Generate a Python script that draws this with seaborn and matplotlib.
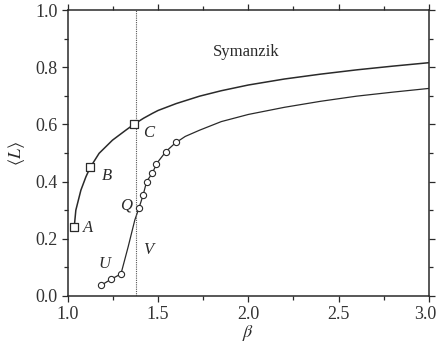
import numpy as np
import pandas as pd
import matplotlib
matplotlib.use('Agg')
import matplotlib.pyplot as plt
from matplotlib.ticker import MultipleLocator
from matplotlib.transforms import ScaledTranslation
import seaborn as sns

sns.set_style('ticks')
plt.rcParams['font.family'] = ['Liberation Serif', 'DejaVu Serif']
plt.rcParams['mathtext.fontset'] = 'stix'

# upper curve (Symanzik)
sym_beta = [1.035, 1.044, 1.072, 1.10, 1.124, 1.173, 1.247, 1.321, 1.367, 1.42, 1.469,
            1.50, 1.60, 1.73, 1.85, 2.0, 2.2, 2.4, 2.6, 2.8, 3.0]
sym_L = [0.240, 0.300, 0.370, 0.417, 0.450, 0.499, 0.545, 0.580, 0.601, 0.622, 0.639,
         0.649, 0.673, 0.699, 0.718, 0.738, 0.759, 0.776, 0.791, 0.804, 0.816]
# squares A, B, C
sq_beta = [1.035, 1.124, 1.367]
sq_L = [0.240, 0.450, 0.601]

# lower curve
low_beta = [1.186, 1.238, 1.294, 1.334, 1.371, 1.393, 1.417, 1.436, 1.467, 1.495,
            1.543, 1.593, 1.65, 1.73, 1.85, 2.0, 2.2, 2.4, 2.6, 2.8, 3.0]
low_L = [0.038, 0.058, 0.077, 0.172, 0.266, 0.306, 0.353, 0.400, 0.429, 0.466,
         0.505, 0.534, 0.558, 0.580, 0.610, 0.635, 0.660, 0.681, 0.699, 0.713, 0.726]
# circles on lower curve
circ_beta = [1.186, 1.238, 1.294, 1.393, 1.417, 1.436, 1.467, 1.490, 1.543, 1.598]
circ_L = [0.038, 0.058, 0.077, 0.306, 0.353, 0.400, 0.429, 0.460, 0.505, 0.537]

beta_c = 1.38

labels = ['A', 'B', 'C', 'Q', 'U', 'V']
label_beta = [1.109, 1.214, 1.45, 1.325, 1.20, 1.445]
label_L = [0.237, 0.42, 0.571, 0.318, 0.112, 0.161]

ink = '#2a2a2a'

fig = plt.figure(figsize=(4.38, 3.49), dpi=100)
ax = fig.add_axes([0.155, 0.152, 0.824, 0.819])

sns.lineplot(x=sym_beta, y=sym_L, ax=ax, color=ink, lw=1.1, sort=False)
sns.lineplot(x=low_beta, y=low_L, ax=ax, color=ink, lw=0.9, sort=False)
sns.scatterplot(x=sq_beta, y=sq_L, ax=ax, marker='s', s=30, facecolor='white',
                edgecolor=ink, linewidth=0.9, zorder=5)
sns.scatterplot(x=circ_beta, y=circ_L, ax=ax, marker='o', s=20, facecolor='white',
                edgecolor=ink, linewidth=0.8, zorder=5)
ax.axvline(beta_c, color='#555555', lw=0.8, ls=(0, (1, 1)))

for t, bx, by in zip(labels, label_beta, label_L):
    ax.text(bx, by, t, fontsize=12, style='italic', color=ink, ha='center', va='center')
ax.text(1.99, 0.852, 'Symanzik', fontsize=12, color=ink, ha='center', va='center')

ax.set_xlim(1.0, 3.0)
ax.set_ylim(0.0, 1.0)
ax.set_xticks([1.0, 1.5, 2.0, 2.5, 3.0])
ax.set_xticklabels(['1.0', '1.5', '2.0', '2.5', '3.0'])
ax.xaxis.set_minor_locator(MultipleLocator(0.25))
ax.yaxis.set_major_locator(MultipleLocator(0.2))
ax.yaxis.set_minor_locator(MultipleLocator(0.1))
ax.tick_params(which='both', top=True, right=True, color=ink, width=0.9,
               labelsize=13, labelcolor='#333333')
ax.tick_params(which='major', length=4)
ax.tick_params(which='minor', length=3)
ax.yaxis.set_major_formatter(plt.FuncFormatter(lambda v, p: f'{v:.1f}'))
for s in ax.spines.values():
    s.set_color(ink)
    s.set_linewidth(1.1)

ax.set_xlabel(r'$\beta$', fontsize=13, color=ink, labelpad=0)
ax.set_ylabel(r'$\langle L\rangle$', fontsize=13, color=ink, labelpad=6)

# keep the "3.0" label inside the figure, as in the scan
for lbl in ax.get_xticklabels():
    if lbl.get_text() == '3.0':
        lbl.set_horizontalalignment('right')
        lbl.set_transform(lbl.get_transform() + ScaledTranslation(8 / 100, 0, fig.dpi_scale_trans))

fig.savefig('out.png', dpi=100)
